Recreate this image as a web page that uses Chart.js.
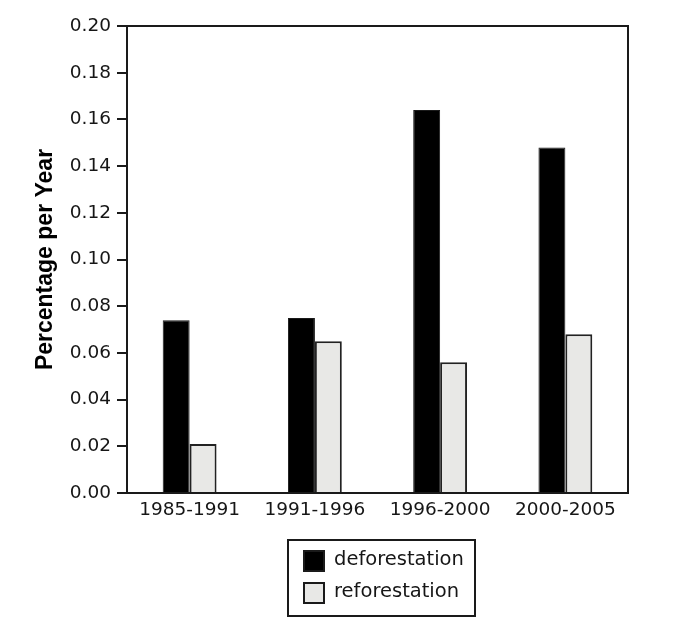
<!DOCTYPE html>
<html>
<head>
<meta charset="utf-8">
<script src="https://cdn.jsdelivr.net/npm/chart.js@4"></script>
<style>
  html, body { margin: 0; padding: 0; background: #fff; }
  #wrap { position: relative; width: 675px; height: 640px; }
  #legend {
    position: absolute; left: 287px; top: 539px; width: 185px; height: 74px;
    border: 2px solid #1a1a1a; box-sizing: content-box;
    font-family: "DejaVu Sans", Verdana, sans-serif; font-size: 19.5px; color: #161616;
  }
  #legend .item { position: absolute; left: 14px; height: 22px; line-height: 22px; }
  #legend .sw { position: absolute; left: 0; top: 0; width: 18px; height: 18px; border: 2px solid #1a1a1a; }
  #legend .txt { position: absolute; left: 31px; top: -2px; white-space: nowrap; }
</style>
</head>
<body>
<div id="wrap">
  <canvas id="chart" width="675" height="640"></canvas>
  <div id="legend"></div>
</div>
<script>
// данные графика
const periods = ['1985-1991', '1991-1996', '1996-2000', '2000-2005'];
const deforestation = [0.074, 0.075, 0.164, 0.148];
const reforestation = [0.021, 0.065, 0.056, 0.068];
const seriesNames = ['deforestation', 'reforestation'];
const yTicks = [0, 0.02, 0.04, 0.06, 0.08, 0.10, 0.12, 0.14, 0.16, 0.18, 0.20];

// рамка вокруг области графика
const frame = {
    id: 'frame',
    afterDraw(chart) {
        const a = chart.chartArea;
        const ctx = chart.ctx;
        ctx.save();
        ctx.strokeStyle = '#1a1a1a';
        ctx.lineWidth = 2;
        ctx.strokeRect(a.left, a.top, a.right - a.left, a.bottom - a.top);
        ctx.restore();
    }
};

const tickFont = { family: '"DejaVu Sans", Verdana, sans-serif', size: 18.5 };

const chart = new Chart(document.getElementById('chart'), {
    type: 'bar',
    data: {
        labels: periods,
        datasets: [{
            label: seriesNames[0],
            data: deforestation,
            backgroundColor: '#000',
            borderColor: '#1a1a1a',
            borderWidth: 1
        }, {
            label: seriesNames[1],
            data: reforestation,
            backgroundColor: '#e8e8e6',
            borderColor: '#222',
            borderWidth: 2
        }]
    },
    options: {
        responsive: false,
        animation: false,
        layout: { padding: { left: 0, top: 26, right: 47, bottom: 107 } },
        plugins: {
            legend: { display: false },
            tooltip: { enabled: false }
        },
        datasets: { bar: { categoryPercentage: 0.43, barPercentage: 1 } },
        scales: {
            x: {
                grid: { display: false, drawTicks: false },
                border: { display: true, color: '#1a1a1a', width: 2 },
                ticks: { color: '#161616', padding: 6, font: tickFont },
                afterFit(scale) { scale.height = 40; }
            },
            y: {
                min: 0,
                max: 0.20,
                afterBuildTicks(scale) { scale.ticks = yTicks.map(v => ({ value: v })); },
                grid: { drawOnChartArea: false, drawTicks: true, tickLength: 10, color: '#1a1a1a', lineWidth: 2 },
                border: { display: true, color: '#1a1a1a', width: 2 },
                ticks: {
                    color: '#161616',
                    padding: 6,
                    font: tickFont,
                    callback: v => v.toFixed(2)
                },
                title: {
                    display: true,
                    text: 'Percentage per Year',
                    color: '#000',
                    padding: { top: 32 },
                    font: { family: '"Liberation Sans", Arial, sans-serif', size: 23, weight: 'bold' }
                },
                afterFit(scale) { scale.width = 127; }
            }
        }
    },
    plugins: [frame]
});

// легенда в рамке
const legendEl = document.getElementById('legend');
chart.data.datasets.forEach((ds, i) => {
    const item = document.createElement('div');
    item.className = 'item';
    item.style.top = (9 + i * 32) + 'px';
    item.innerHTML = '<span class="sw" style="background:' + ds.backgroundColor + '"></span>' +
        '<span class="txt">' + ds.label + '</span>';
    legendEl.appendChild(item);
});
</script>
</body>
</html>
